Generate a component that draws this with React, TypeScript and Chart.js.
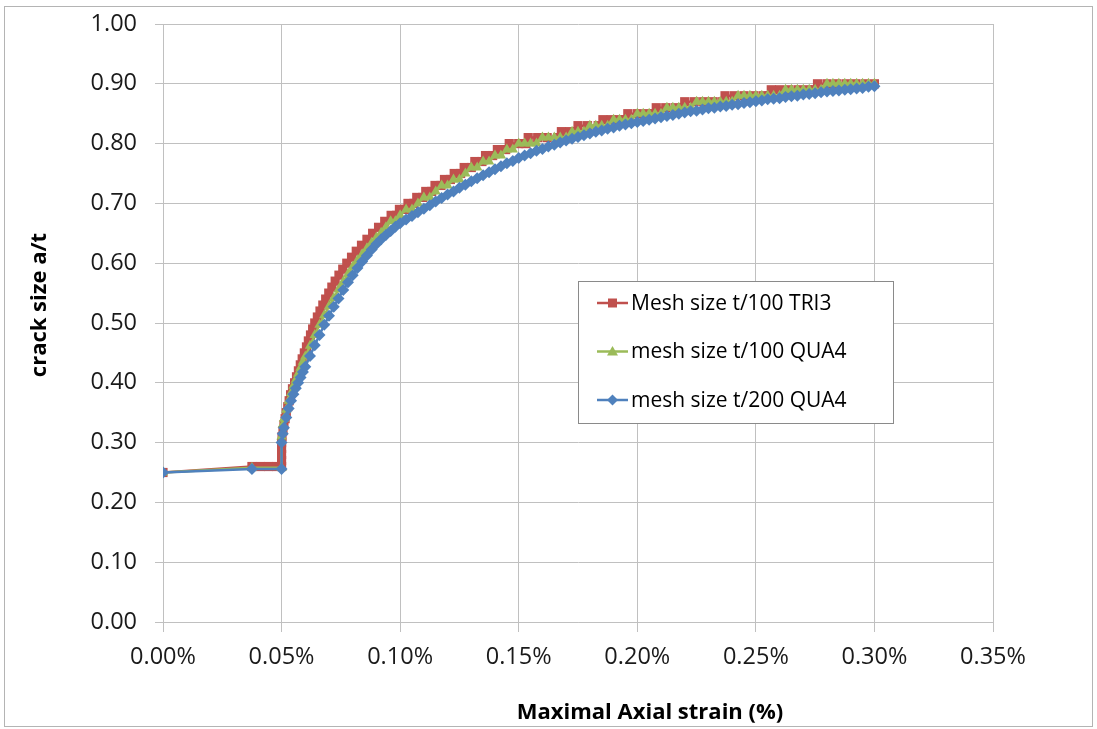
import React, { useEffect, useRef } from "react";
import { Chart, registerables } from "chart.js";

Chart.register(...registerables);

// ---------- data (strain in %, crack size a/t) ----------
const seriesLabels = ["Mesh size t/100 TRI3", "mesh size t/100 QUA4", "mesh size t/200 QUA4"];
const seriesColors = ["#C0504D", "#9BBB59", "#4F81BD"];
const xTicks = [0, 0.05, 0.1, 0.15, 0.2, 0.25, 0.3, 0.35];
const yTicks = [0, 0.1, 0.2, 0.3, 0.4, 0.5, 0.6, 0.7, 0.8, 0.9, 1.0];
const xTitle = "Maximal Axial strain (%)";
const yTitle = "crack size a/t";

// shared strain values for the QUA4 series
const strainX = [
  0, 0.0375, 0.05, 0.05,
  0.0505, 0.051, 0.052, 0.053, 0.054, 0.055, 0.056, 0.057, 0.058, 0.059, 0.06,
  0.062, 0.064, 0.066, 0.068, 0.07, 0.072, 0.074, 0.076, 0.078, 0.08,
  0.082, 0.084, 0.086, 0.088, 0.09, 0.092, 0.094, 0.096, 0.098, 0.1,
  0.1025, 0.105, 0.1075, 0.11, 0.1125, 0.115, 0.1175, 0.12, 0.1225, 0.125,
  0.1275, 0.13, 0.1325, 0.135, 0.1375, 0.14, 0.1425, 0.145, 0.1475, 0.15,
  0.1525, 0.155, 0.1575, 0.16, 0.1625, 0.165, 0.1675, 0.17, 0.1725, 0.175,
  0.1775, 0.18, 0.1825, 0.185, 0.1875, 0.19, 0.1925, 0.195, 0.1975, 0.2,
  0.2025, 0.205, 0.2075, 0.21, 0.2125, 0.215, 0.2175, 0.22, 0.2225, 0.225,
  0.2275, 0.23, 0.2325, 0.235, 0.2375, 0.24, 0.2425, 0.245, 0.2475, 0.25,
  0.2525, 0.255, 0.2575, 0.26, 0.2625, 0.265, 0.2675, 0.27, 0.2725, 0.275,
  0.2775, 0.28, 0.2825, 0.285, 0.2875, 0.29, 0.2925, 0.295, 0.2975, 0.3,
];

// mesh size t/200 QUA4
const blueA = [
  0.25, 0.256, 0.256, 0.3,
  0.315, 0.325, 0.342, 0.357, 0.37, 0.381, 0.391, 0.4, 0.409, 0.418, 0.427,
  0.445, 0.463, 0.48, 0.497, 0.512, 0.527, 0.541, 0.555, 0.568, 0.58,
  0.592, 0.603, 0.613, 0.623, 0.632, 0.64, 0.647, 0.654, 0.661, 0.667,
  0.673, 0.679, 0.685, 0.691, 0.697, 0.703, 0.709, 0.715, 0.72, 0.726,
  0.731, 0.737, 0.742, 0.747, 0.752, 0.757, 0.762, 0.767, 0.771, 0.776,
  0.78, 0.784, 0.788, 0.791, 0.795, 0.798, 0.802, 0.805, 0.808, 0.811,
  0.814, 0.817, 0.82, 0.822, 0.825, 0.827, 0.83, 0.832, 0.834, 0.836,
  0.838, 0.84, 0.842, 0.844, 0.846, 0.848, 0.85, 0.852, 0.854, 0.855,
  0.857, 0.859, 0.86, 0.862, 0.863, 0.865, 0.866, 0.868, 0.869, 0.871,
  0.872, 0.874, 0.875, 0.876, 0.878, 0.879, 0.88, 0.882, 0.883, 0.884,
  0.886, 0.887, 0.888, 0.889, 0.89, 0.891, 0.892, 0.893, 0.895, 0.896,
];

// mesh size t/100 QUA4
const greenA = [
  0.25, 0.258, 0.258, 0.31,
  0.33, 0.34, 0.355, 0.37, 0.383, 0.395, 0.405, 0.415, 0.425, 0.435, 0.444,
  0.462, 0.48, 0.497, 0.513, 0.528, 0.542, 0.556, 0.569, 0.582, 0.594,
  0.605, 0.615, 0.625, 0.634, 0.643, 0.651, 0.66, 0.67, 0.67, 0.68,
  0.69, 0.69, 0.7, 0.71, 0.71, 0.72, 0.73, 0.73, 0.74, 0.74,
  0.75, 0.76, 0.76, 0.77, 0.77, 0.78, 0.78, 0.79, 0.79, 0.8,
  0.8, 0.8, 0.8, 0.81, 0.81, 0.81, 0.81, 0.81, 0.82, 0.82,
  0.82, 0.83, 0.83, 0.83, 0.83, 0.84, 0.84, 0.84, 0.84, 0.85,
  0.85, 0.85, 0.85, 0.85, 0.86, 0.86, 0.86, 0.86, 0.86, 0.87,
  0.87, 0.87, 0.87, 0.87, 0.87, 0.87, 0.88, 0.88, 0.88, 0.88,
  0.88, 0.88, 0.88, 0.88, 0.89, 0.89, 0.89, 0.89, 0.89, 0.89,
  0.89, 0.9, 0.9, 0.9, 0.9, 0.9, 0.9, 0.9, 0.9, 0.9,
];

// Mesh size t/100 TRI3 (stepped)
const redX = [
  0, 0.0375, 0.041, 0.0445, 0.048, 0.05, 0.05, 0.05, 0.05, 0.05,
  0.0502, 0.0506, 0.051, 0.0515, 0.052, 0.0526, 0.0532, 0.0538, 0.0546, 0.0555,
  0.0563, 0.0571, 0.0579, 0.0587, 0.0596, 0.0605, 0.0613, 0.0622, 0.0631, 0.064,
  0.0651, 0.0662, 0.0674, 0.0686, 0.0699, 0.0712, 0.0726, 0.0742, 0.0758, 0.0775,
  0.0795, 0.0815, 0.0837, 0.086, 0.0884, 0.0909, 0.0935,
  0.0962, 0.0985, 0.0997, 0.102, 0.1033, 0.1058, 0.107, 0.1095, 0.1108, 0.1133,
  0.1147, 0.1172, 0.1187, 0.1212, 0.1228, 0.1255, 0.127, 0.13, 0.1315, 0.1345,
  0.136, 0.139, 0.141, 0.1445,
  0.146, 0.15, 0.153,
  0.154, 0.158, 0.162, 0.1665,
  0.168, 0.1715, 0.174,
  0.175, 0.179, 0.1835,
  0.1855, 0.189, 0.1925, 0.195,
  0.196, 0.2, 0.204, 0.207,
  0.208, 0.212, 0.216, 0.219,
  0.22, 0.224, 0.228, 0.232, 0.236,
  0.237, 0.241, 0.245, 0.249, 0.253, 0.2555,
  0.2565, 0.26, 0.264, 0.268, 0.272, 0.275,
  0.276, 0.28, 0.284, 0.288, 0.292, 0.296, 0.3,
];
const redA = [
  0.25, 0.26, 0.26, 0.26, 0.26, 0.26, 0.27, 0.28, 0.29, 0.3,
  0.31, 0.32, 0.33, 0.34, 0.35, 0.36, 0.37, 0.38, 0.39, 0.4,
  0.41, 0.42, 0.43, 0.44, 0.45, 0.46, 0.47, 0.48, 0.49, 0.5,
  0.51, 0.52, 0.53, 0.54, 0.55, 0.56, 0.57, 0.58, 0.59, 0.6,
  0.61, 0.62, 0.63, 0.64, 0.65, 0.66, 0.67,
  0.68, 0.68, 0.69, 0.69, 0.7, 0.7, 0.71, 0.71, 0.72, 0.72,
  0.73, 0.73, 0.74, 0.74, 0.75, 0.75, 0.76, 0.76, 0.77, 0.77,
  0.78, 0.78, 0.79, 0.79,
  0.8, 0.8, 0.8,
  0.81, 0.81, 0.81, 0.81,
  0.82, 0.82, 0.82,
  0.83, 0.83, 0.83,
  0.84, 0.84, 0.84, 0.84,
  0.85, 0.85, 0.85, 0.85,
  0.86, 0.86, 0.86, 0.86,
  0.87, 0.87, 0.87, 0.87, 0.87,
  0.88, 0.88, 0.88, 0.88, 0.88, 0.88,
  0.89, 0.89, 0.89, 0.89, 0.89, 0.89,
  0.9, 0.9, 0.9, 0.9, 0.9, 0.9, 0.9,
];

const toPoints = (xs: number[], ys: number[]) => xs.map((x, i) => ({ x, y: ys[i] }));

const FONT = '"Open Sans", "DejaVu Sans", sans-serif';
const GRID = "#c0c0c0";

function drawMarker(ctx: CanvasRenderingContext2D, style: string, cx: number, cy: number, color: string) {
  ctx.fillStyle = color;
  ctx.beginPath();
  if (style === "rect") {
    ctx.rect(cx - 4.5, cy - 4.5, 9, 9);
  } else if (style === "triangle") {
    ctx.moveTo(cx, cy - 5.5);
    ctx.lineTo(cx + 5.5, cy + 4);
    ctx.lineTo(cx - 5.5, cy + 4);
    ctx.closePath();
  } else {
    ctx.moveTo(cx, cy - 5.5);
    ctx.lineTo(cx + 5.5, cy);
    ctx.lineTo(cx, cy + 5.5);
    ctx.lineTo(cx - 5.5, cy);
    ctx.closePath();
  }
  ctx.fill();
}

const overlayPlugin = {
  id: "overlay",
  afterDraw(chart: any) {
    const ctx: CanvasRenderingContext2D = chart.ctx;
    ctx.save();
    // axis titles
    ctx.fillStyle = "#000";
    ctx.font = `bold 22px ${FONT}`;
    ctx.textAlign = "center";
    ctx.textBaseline = "middle";
    ctx.fillText(xTitle, 650, 713);
    ctx.save();
    ctx.translate(40, 305);
    ctx.rotate(-Math.PI / 2);
    ctx.fillText(yTitle, 0, 0);
    ctx.restore();

    // legend box
    const bx = 578.5, by = 281.5, bw = 315, bh = 142;
    ctx.fillStyle = "#fff";
    ctx.fillRect(bx, by, bw, bh);
    ctx.strokeStyle = "#8a8a8a";
    ctx.lineWidth = 1;
    ctx.strokeRect(bx, by, bw, bh);
    ctx.font = `21px ${FONT}`;
    ctx.textAlign = "left";
    ctx.textBaseline = "middle";
    chart.data.datasets.forEach((ds: any, i: number) => {
      const cy = 303 + i * 48.5;
      ctx.strokeStyle = ds.borderColor;
      ctx.lineWidth = 2.5;
      ctx.beginPath();
      ctx.moveTo(597, cy);
      ctx.lineTo(628, cy);
      ctx.stroke();
      drawMarker(ctx, ds.pointStyle, 612.5, cy, ds.backgroundColor);
      ctx.fillStyle = "#000";
      ctx.fillText(ds.label, 631, cy + 1);
    });
    ctx.restore();
  },
};

export default function App() {
  const ref = useRef<HTMLCanvasElement>(null);

  useEffect(() => {
    const canvas = ref.current;
    if (!canvas) return;
    const styles = ["rect", "triangle", "rectRot"];
    const radii = [6.5, 6, 6];
    const pts = [toPoints(redX, redA), toPoints(strainX, greenA), toPoints(strainX, blueA)];
    const chart = new Chart(canvas, {
      type: "scatter",
      data: {
        datasets: seriesLabels.map((label, i) => ({
          label,
          data: pts[i],
          showLine: true,
          borderColor: seriesColors[i],
          backgroundColor: seriesColors[i],
          pointBackgroundColor: seriesColors[i],
          pointBorderColor: seriesColors[i],
          pointBorderWidth: 0,
          borderWidth: 2.5,
          pointStyle: styles[i],
          pointRadius: radii[i],
          tension: 0,
          order: 3 - i,
        })),
      },
      options: {
        animation: false,
        responsive: false,
        events: [],
        layout: { padding: { left: 0, right: 104, top: 24, bottom: 0 } },
        plugins: { legend: { display: false }, tooltip: { enabled: false } },
        scales: {
          x: {
            type: "linear",
            min: 0,
            max: 0.35,
            afterBuildTicks: (s: any) => {
              s.ticks = xTicks.map((v) => ({ value: v }));
            },
            afterFit: (s: any) => {
              s.height = 107;
              s.paddingLeft = 0;
              s.paddingRight = 0;
            },
            ticks: {
              callback: (v: any) => Number(v).toFixed(2) + "%",
              font: { family: FONT, size: 23.5 },
              color: "#1a1a1a",
              padding: 11,
              maxRotation: 0,
              autoSkip: false,
            },
            grid: { color: GRID, tickLength: 10, tickColor: GRID },
            border: { color: GRID },
          },
          y: {
            type: "linear",
            min: 0,
            max: 1,
            afterBuildTicks: (s: any) => {
              s.ticks = yTicks.map((v) => ({ value: v }));
            },
            afterFit: (s: any) => {
              s.width = 163;
              s.paddingTop = 0;
              s.paddingBottom = 0;
            },
            ticks: {
              callback: (v: any) => Number(v).toFixed(2),
              font: { family: FONT, size: 23.5 },
              color: "#1a1a1a",
              padding: 18,
              autoSkip: false,
            },
            grid: { color: GRID, tickLength: 8, tickColor: GRID },
            border: { color: GRID },
          },
        },
      },
      plugins: [overlayPlugin],
    } as any);
    return () => chart.destroy();
  }, []);

  return (
    <div style={{ position: "fixed", left: 0, top: 0, width: 1097, height: 729, background: "#fff" }}>
      <canvas
        ref={ref}
        width={1097}
        height={729}
        style={{ position: "absolute", left: 0, top: 0, width: 1097, height: 729 }}
      />
      <div
        style={{
          position: "absolute",
          left: 4,
          top: 6,
          width: 1087,
          height: 719,
          border: "1px solid #b4b4b4",
          pointerEvents: "none",
        }}
      />
    </div>
  );
}
